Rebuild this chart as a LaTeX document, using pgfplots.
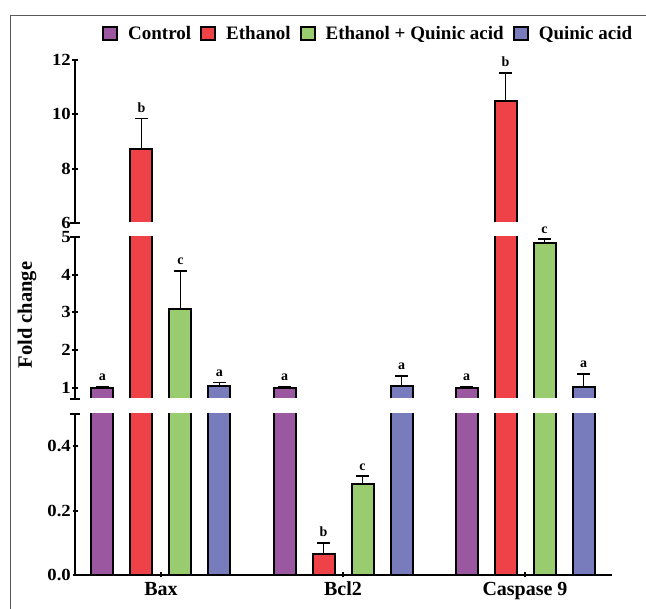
\documentclass[border=0pt]{standalone}
\usepackage{fontspec}
\setmainfont{Liberation Serif}
\newfontfamily\tickfont[FakeStretch=1.1]{Liberation Serif}
\usepackage{pgfplots}
\usepackage{pgfplotstable}
\pgfplotsset{compat=1.18}

\definecolor{cControl}{HTML}{9B58A0}
\definecolor{cEthanol}{HTML}{EE4248}
\definecolor{cMix}{HTML}{98CC6E}
\definecolor{cQuinic}{HTML}{787CBC}

% x: 0 = Bax, 1 = Bcl2, 2 = Caspase 9 ; y = mean fold change ; e = error (SD)
\pgfplotstableread{
x y e
0 1.00 0.02
1 1.00 0.02
2 1.00 0.02
}\tControl
\pgfplotstableread{
x y e
0 8.72 1.13
1 0.065 0.035
2 10.50 1.03
}\tEthanol
\pgfplotstableread{
x y e
0 3.09 1.01
1 0.283 0.024
2 4.84 0.10
}\tMix
\pgfplotstableread{
x y e
0 1.05 0.09
1 1.05 0.27
2 1.03 0.34
}\tQuinic

\pgfplotsset{
  seg/.style={
    scale only axis, width=537pt,
    xmin=-0.4725, xmax=2.478,
    ybar, bar width=22pt,
    tick align=outside, major tick length=5pt,
    ytick style={line width=2pt, black},
    xtick style={line width=2pt, black},
    yticklabel style={font=\tickfont\bfseries\fontsize{17}{20}\selectfont, inner xsep=1.5pt, inner ysep=0pt},
    /pgf/number format/assume math mode=true,
    every axis plot/.append style={draw=black, line width=2pt},
  },
  noarrows/.style={axis line style={line width=2pt, -},
    x axis line style={-}, y axis line style={-}},
  errp/.style={draw=none, fill=none, forget plot,
    error bars/y dir=plus, error bars/y explicit,
    error bars/error bar style={draw=black, line width=1.4pt},
    error bars/error mark options={rotate=90, draw=black, line width=1.8pt, mark size=6.5pt}},
  lbl/.style={draw=none, fill=none, forget plot,
    nodes near coords={#1},
    nodes near coords style={font=\bfseries\fontsize{14}{15}\selectfont, anchor=south, inner sep=1pt, yshift=4pt, black}},
}

\newcommand{\series}[2]{%
  \addplot[fill=cControl, bar shift=-58.5pt] table[x=x,y=y]{\tControl};
  \addplot[fill=cEthanol, bar shift=-19.5pt] table[x=x,y=y]{\tEthanol};
  \addplot[fill=cMix, bar shift=19.5pt] table[x=x,y=y]{\tMix};
  \addplot[fill=cQuinic, bar shift=58.5pt] table[x=x,y=y]{\tQuinic};
  \addplot[errp, bar shift=-58.5pt, restrict y to domain=#1:#2] table[x=x,y=y,y error=e]{\tControl};
  \addplot[errp, bar shift=-19.5pt, restrict y to domain=#1:#2] table[x=x,y=y,y error=e]{\tEthanol};
  \addplot[errp, bar shift=19.5pt, restrict y to domain=#1:#2] table[x=x,y=y,y error=e]{\tMix};
  \addplot[errp, bar shift=58.5pt, restrict y to domain=#1:#2] table[x=x,y=y,y error=e]{\tQuinic};
  \addplot[lbl=a, bar shift=-58.5pt, restrict y to domain=#1:#2] table[x=x, y expr=\thisrow{y}+\thisrow{e}]{\tControl};
  \addplot[lbl=b, bar shift=-19.5pt, restrict y to domain=#1:#2] table[x=x, y expr=\thisrow{y}+\thisrow{e}]{\tEthanol};
  \addplot[lbl=c, bar shift=19.5pt, restrict y to domain=#1:#2] table[x=x, y expr=\thisrow{y}+\thisrow{e}]{\tMix};
  \addplot[lbl=a, bar shift=58.5pt, restrict y to domain=#1:#2] table[x=x, y expr=\thisrow{y}+\thisrow{e}]{\tQuinic};
}

\begin{document}
\begin{tikzpicture}
\useasboundingbox (0,0) rectangle (646pt,609pt);
\draw[line width=1pt, black!65] (10pt,0) -- (10pt,593pt) -- (646pt,593pt);

% top segment 6-12
\begin{axis}[seg, name=top, at={(75pt,386pt)}, anchor=south west, height=163pt,
  ymin=6, ymax=12, ytick={6,8,10,12},
  axis x line=none, axis y line=left, xtick=\empty, noarrows,
  legend columns=4,
  legend style={at={(axis description cs:0.0503,1.16)}, anchor=west, draw=none, fill=none,
    inner sep=0pt, font=\bfseries\fontsize{19}{21}\selectfont,
    nodes={inner xsep=0pt, inner ysep=1pt},
    /tikz/every odd column/.append style={column sep=10pt},
    /tikz/every even column/.append style={column sep=9pt}},
  legend image code/.code={\draw[#1, line width=2pt] (0pt,-6.5pt) rectangle (14pt,6.5pt);},
]
\series{6}{12}
\legend{Control, Ethanol, Ethanol + Quinic acid, Quinic acid}
\end{axis}

% middle segment 0.7-5
\begin{axis}[seg, name=mid, at={(75pt,210pt)}, anchor=south west, height=162pt,
  ymin=0.7, ymax=5, ytick={1,2,3,4,5},
  axis x line=none, axis y line=left, xtick=\empty, noarrows,
]
\series{0.7}{5}
\end{axis}

% bottom segment 0-0.5
\begin{axis}[seg, name=bot, at={(75pt,34pt)}, anchor=south west, height=161pt,
  ymin=0, ymax=0.5, ytick={0,0.2,0.4},
  yticklabel style={/pgf/number format/.cd, fixed, fixed zerofill, precision=1},
  axis x line=bottom, axis y line=left, noarrows,
  xtick={0,1,2}, xticklabels={Bax, Bcl2, Caspase 9},
  xticklabel style={font=\bfseries\fontsize{20}{22}\selectfont, yshift=-1pt},
]
\series{0}{0.5}
\end{axis}

% white breaks across the bars
\fill[white] ([xshift=1.2pt,yshift=-1.5pt]top.south west) rectangle ([xshift=4pt,yshift=1.3pt]top.south east);
\fill[white] ([xshift=1.2pt,yshift=-1.5pt]mid.south west) rectangle ([xshift=4pt,yshift=1.3pt]mid.south east);

% break caps on the y axis
\foreach \p in {top.south west, mid.north west, mid.south west, bot.north west}
  \draw[line width=2pt] ([xshift=-5pt]\p) -- ([xshift=5pt]\p);

\node[rotate=90, font=\bfseries\fontsize{20.5}{22}\selectfont] at (27pt,294pt) {Fold change};
\end{tikzpicture}
\end{document}
